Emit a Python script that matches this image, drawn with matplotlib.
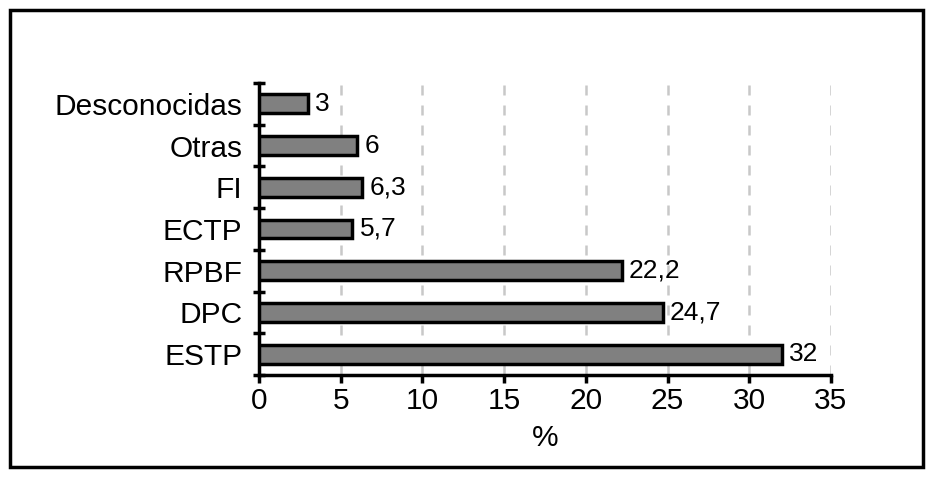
import matplotlib
matplotlib.use("Agg")
import matplotlib.pyplot as plt
import numpy as np
from matplotlib.patches import Rectangle

# categories, top to bottom as shown
categories = ["Desconocidas", "Otras", "FI", "ECTP", "RPBF", "DPC", "ESTP"]
values = [3, 6, 6.3, 5.7, 22.2, 24.7, 32]
value_labels = ["3", "6", "6,3", "5,7", "22,2", "24,7", "32"]
xticks = [0, 5, 10, 15, 20, 25, 30, 35]

plt.rcParams['font.family'] = ['Liberation Sans', 'DejaVu Sans']

fig = plt.figure(figsize=(9.33, 4.78), dpi=100)
ax = fig.add_axes([0.2776, 0.2155, 0.613, 0.611])

# draw bottom-up so ESTP is at the bottom
y = np.arange(len(categories))[::-1]
ax.barh(y, values, height=0.45, color="#808080", edgecolor="black", linewidth=2.5, zorder=3)

for yi, v, lab in zip(y, values, value_labels):
    ax.text(v + 0.45, yi, lab, va="center", ha="left", fontsize=19, zorder=4)

ax.set_xlim(0, 35)
ax.set_ylim(-0.5, len(categories) - 0.5)
ax.set_xticks(xticks)
ax.set_xticklabels([str(t) for t in xticks], fontsize=21.5)
ax.set_yticks(y)
ax.set_yticklabels(categories, fontsize=21.5)
ax.tick_params(axis="y", length=0, pad=12)
ax.set_yticks(np.arange(-0.5, len(categories), 1.0), minor=True)
ax.tick_params(axis="y", which="minor", length=8, width=2.5, direction="inout")
ax.tick_params(axis="x", length=6, width=2.5, direction="out", pad=3)

ax.xaxis.grid(True, linestyle=(0, (4, 4)), color="#c8c8c8", linewidth=1.8, zorder=0)
ax.set_axisbelow(True)

for s in ["top", "right"]:
    ax.spines[s].set_visible(False)
for s in ["left", "bottom"]:
    ax.spines[s].set_linewidth(2.5)

ax.set_xlabel("%", fontsize=21.5, labelpad=6)

# outer frame
fig.patches.append(Rectangle((0.0107, 0.023), 0.979, 0.956, transform=fig.transFigure,
                             fill=False, edgecolor="black", linewidth=2.5))

fig.savefig("out.png", dpi=100)
